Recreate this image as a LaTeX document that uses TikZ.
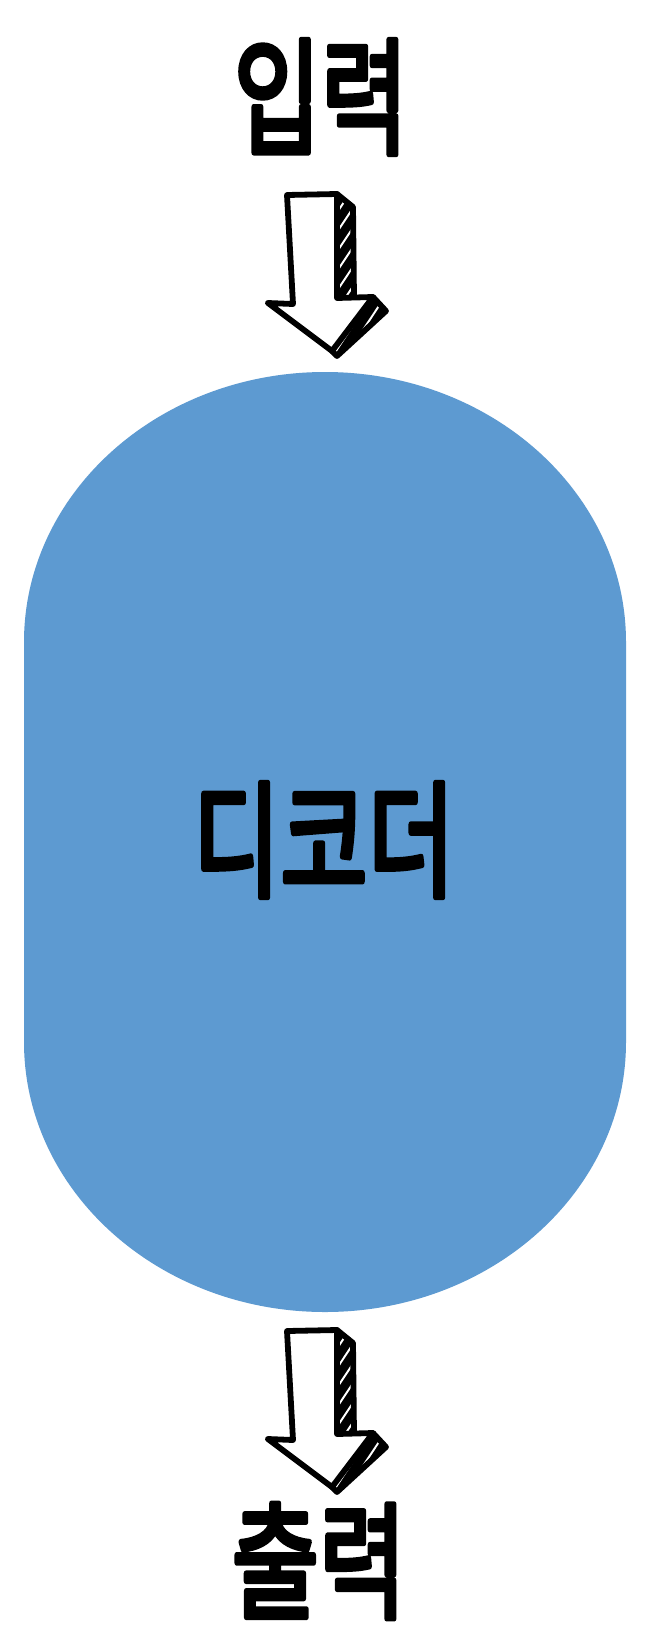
\documentclass[tikz,border=0pt]{standalone}
\usepackage{fontspec}
\newfontfamily\kor{Noto Sans CJK KR}[FakeBold=4.5]
\definecolor{decoderblue}{HTML}{5D9AD1}
\tikzset{
  lbl/.style={font=\kor\fontsize{72}{72}\selectfont, inner sep=0pt},
  arrowline/.style={line width=3.3pt, line join=round, line cap=round},
  hatchline/.style={white, line width=1.1pt}
}
% narrow, rounded lettering
\newcommand{\narrow}[1]{\special{pdf:code 1 j 1 J}\scalebox{0.75}[1]{#1}}
% sketched block arrow, shifted down by #1
\newcommand{\sketcharrow}[1]{%
  \begin{scope}[shift={(0,#1)}]
    \begin{scope}
      \clip (337,194) -- (353,207) -- (354,298) -- (337,298) -- cycle
            (373,297) -- (386,311) -- (337,356) -- (332,351) -- cycle;
      \fill (330,190) rectangle (390,360);
      \foreach \k in {0,...,15}
        \draw[hatchline] (200+\k*13,360) -- ++(113,-170);
    \end{scope}
    \draw[arrowline] (337,194) -- (353,207) -- (354,298)
                     (373,297) -- (386,311) -- (337,356) -- (332,351);
    \draw[arrowline, fill=white] (287,195) -- (337,194) -- (337,298) -- (373,297)
          -- (332,351) -- (268,303) -- (293,304) -- cycle;
  \end{scope}}

\begin{document}
\begin{tikzpicture}[x=0.02cm, y=-0.02cm]
  \useasboundingbox (0,0) rectangle (656,1646);
  \fill[white] (0,0) rectangle (656,1646);
  % decoder body
  \fill[decoderblue] (24,642) arc[start angle=180, end angle=360, x radius=301, y radius=270]
        -- (626,1042) arc[start angle=0, end angle=180, x radius=301, y radius=270] -- cycle;
  \node[lbl] (input) at (321,97) {\narrow{입력}};
  \node[lbl] (decoder) at (324,840) {\narrow{디코더}};
  \node[lbl] (output) at (319,1561) {\narrow{출력}};
  \sketcharrow{0}
  \sketcharrow{1136}
\end{tikzpicture}
\end{document}
